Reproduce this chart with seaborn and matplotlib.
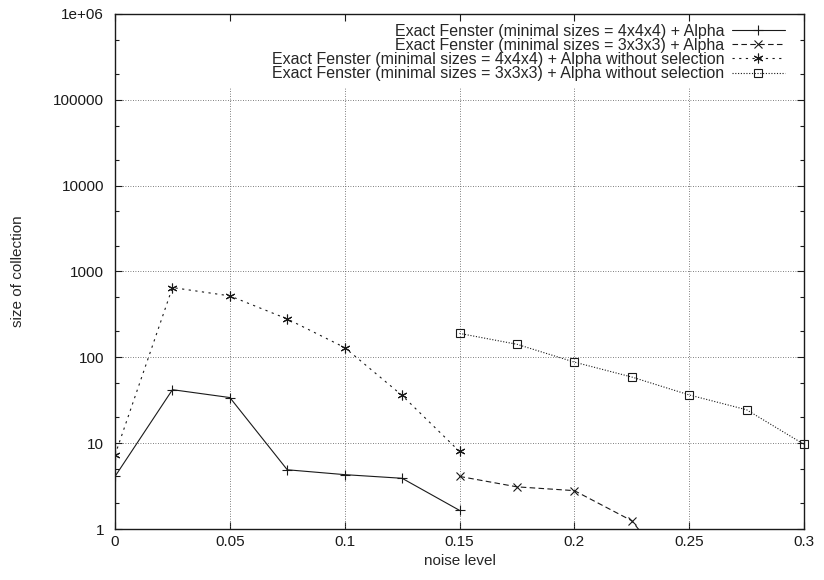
import numpy as np
import pandas as pd
import seaborn as sns
import matplotlib.pyplot as plt
from matplotlib.lines import Line2D

sns.set_theme(style="ticks")
plt.rcParams['font.family'] = ['Liberation Sans', 'DejaVu Sans']

# values
noise_a = [0.0, 0.025, 0.05, 0.075, 0.1, 0.125, 0.15]
fenster444 = [4.1, 42, 34, 4.9, 4.3, 3.9, 1.65]
noise_b = [0.15, 0.175, 0.2, 0.225, 0.25]
fenster333 = [4.1, 3.1, 2.8, 1.25, 0.18]
noise_c = [0.0, 0.025, 0.05, 0.075, 0.1, 0.125, 0.15]
fenster444_nosel = [7.3, 650, 520, 280, 130, 36, 8.0]
noise_d = [0.15, 0.175, 0.2, 0.225, 0.25, 0.275, 0.3]
fenster333_nosel = [190, 142, 88, 59, 36.5, 24.5, 9.7]

labels = [
    'Exact Fenster (minimal sizes = 4x4x4) + Alpha',
    'Exact Fenster (minimal sizes = 3x3x3) + Alpha',
    'Exact Fenster (minimal sizes = 4x4x4) + Alpha without selection',
    'Exact Fenster (minimal sizes = 3x3x3) + Alpha without selection',
]
xticks = [0, 0.05, 0.1, 0.15, 0.2, 0.25, 0.3]
xticklabels = ['0', '0.05', '0.1', '0.15', '0.2', '0.25', '0.3']
yticks = [1, 10, 100, 1000, 10000, 100000, 1e6]
yticklabels = ['1', '10', '100', '1000', '10000', '100000', '1e+06']

# (x, y, marker, linestyle, markersize, clip)
series = [
    (noise_a, fenster444, '+', '-', 7, True),
    (noise_b, fenster333, 'x', (0, (5, 3)), 6, True),
    (noise_c, fenster444_nosel, (6, 2, 0), (0, (2, 4)), 7, True),
    (noise_d, fenster333_nosel, 's', (0, (1, 1.5)), 6, False),
]

fig = plt.figure(figsize=(8.24, 5.8), dpi=100)
ax = fig.add_axes([0.1396, 0.0879, 0.8361, 0.888])

handles = []
for (xs, ys, mk, ls, ms, clip), lab in zip(series, labels):
    df = pd.DataFrame({'noise': xs, 'size': ys})
    sns.lineplot(data=df, x='noise', y='size', ax=ax, color='k', lw=0.8,
                 linestyle=ls, marker=mk, markersize=ms,
                 markeredgecolor='k', markerfacecolor='none',
                 markeredgewidth=0.8, legend=False)
    if not clip:
        ax.lines[-1].set_clip_on(False)
    handles.append(Line2D([], [], color='k', lw=0.8, linestyle=ls, marker=mk,
                          markersize=ms, markeredgecolor='k',
                          markerfacecolor='none', markeredgewidth=0.8))

ax.set_yscale('log')
ax.set_xlim(0, 0.3)
ax.set_ylim(1, 1e6)
ax.set_xticks(xticks)
ax.set_xticklabels(xticklabels)
ax.set_yticks(yticks)
ax.set_yticklabels(yticklabels)
ax.yaxis.set_minor_locator(plt.matplotlib.ticker.LogLocator(base=10, subs=(2, 5)))
ax.yaxis.set_minor_formatter(plt.NullFormatter())

ax.tick_params(which='both', direction='in', top=True, right=True,
               labelsize=11, colors='k', width=0.8)
ax.tick_params(which='major', length=5)
ax.tick_params(which='minor', length=3)
ax.tick_params(axis='x', which='major', pad=4.5)
ax.tick_params(axis='y', which='major', pad=8)
for s in ax.spines.values():
    s.set_linewidth(1.0)
    s.set_color('k')

# gnuplot-style grid: horizontal lines full width, vertical ones stop under the key
ax.grid(axis='y', which='major', color='#555555', linestyle=(0, (1, 2)), lw=0.6)
ax.vlines(xticks[1:-1], 0, 0.856, transform=ax.get_xaxis_transform(),
          colors='#555555', linestyles=[(0, (1, 2))], lw=0.6, zorder=0.6)

ax.set_xlabel('noise level', fontsize=11, labelpad=3.5)
ax.set_ylabel('size of collection', fontsize=11, labelpad=20)

ax.legend(handles, labels, loc='upper right', bbox_to_anchor=(0.986, 1.0),
          markerfirst=False, frameon=False,
          fontsize=11.5, handlelength=3.3, handletextpad=0.5, labelspacing=-0.05,
          borderaxespad=0.4, borderpad=0.2, numpoints=1)

fig.savefig('out.png', dpi=100)
